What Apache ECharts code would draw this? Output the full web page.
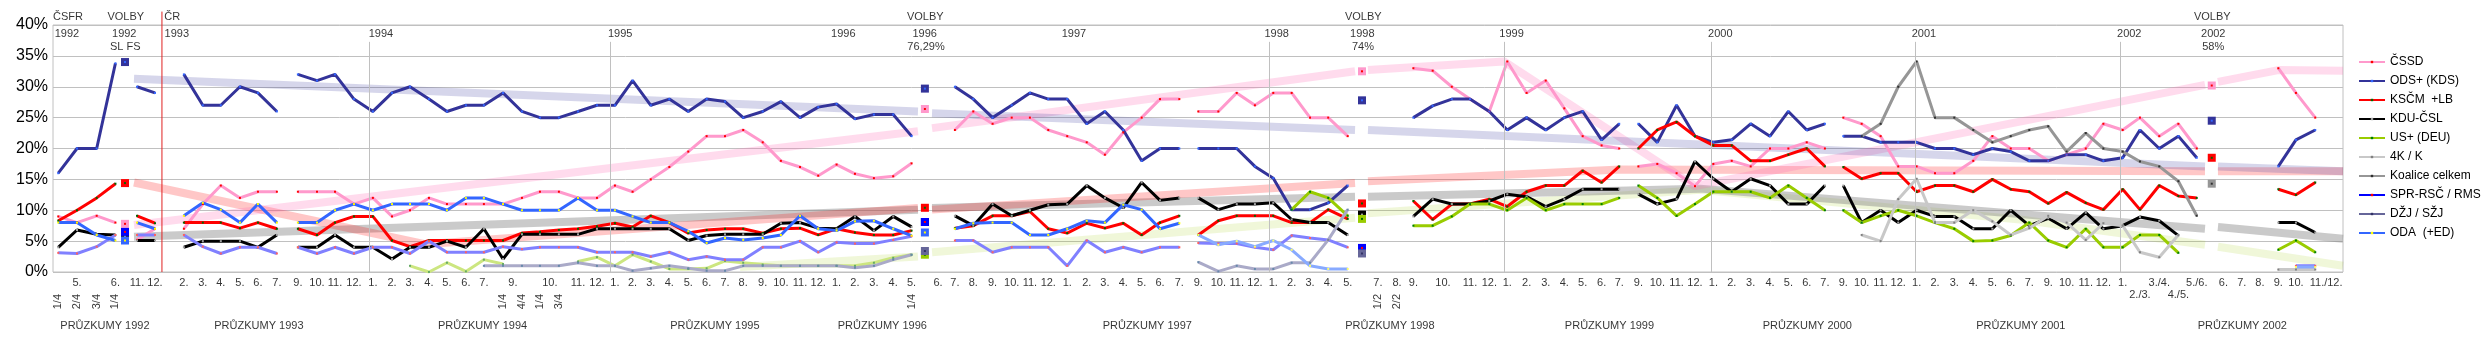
<!DOCTYPE html>
<html>
<head>
<meta charset="utf-8">
<script src="https://cdn.jsdelivr.net/npm/echarts@6/dist/echarts.min.js"></script>
<style>
  html, body { margin: 0; padding: 0; background: #fff; }
  #chart { width: 2485px; height: 351px; }
</style>
</head>
<body>
<div id="chart"></div>
<script>
const _ = null;

// poll columns: position on the x axis (one slot ~ one month)
const colX = [0, 1, 2.05, 3.05,
  4.2, 5.16,
  6.7, 7.71, 8.67, 9.69, 10.65, 11.66,
  12.78, 13.8, 14.76, 15.77,
  16.78, 17.8, 18.76, 19.77, 20.73, 21.74, 22.7,
  23.72, 24.73, 25.69, 26.7, 27.72, 28.73,
  29.69, 30.63, 31.6, 32.59, 33.6, 34.58, 35.56, 36.53, 37.57, 38.54, 39.56, 40.53,
  41.51, 42.49, 43.5, 44.53, 45.51, 46.92,
  47.82, 48.8, 49.83, 50.85, 51.82, 52.8,
  53.81, 54.85, 55.82, 56.8, 57.78, 58.76, 59.79,
  60.8, 61.87, 62.85, 63.82,
  64.8, 65.78, 66.76, 67.73, 68.77, 70.38, 71.4,
  72.27, 73.3, 74.32, 75.29, 76.32,
  77.28, 78.31, 79.33, 80.32, 81.3, 82.31, 83.25,
  84.27, 85.28, 86.31, 87.29,
  88.27, 89.25, 90.26, 91.29, 92.27, 93.25, 94.22,
  95.2, 96.18, 97.19, 98.13,
  99.11, 100.09, 101.12, 102.13, 103.15, 104.13, 105.12,
  106.13, 107.11, 108.13, 109.07,
  110.1, 111.02, 112.05, 113.07, 114.05, 115.47, 116.45, 117.42,
  118.4, 119.34, 120.37];

const monthLab = ['', '5.', '', '6.',
  '11.', '12.',
  '2.', '3.', '4.', '5.', '6.', '7.',
  '9.', '10.', '11.', '12.',
  '1.', '2.', '3.', '4.', '5.', '6.', '7.',
  '', '', '', '', '11.', '12.',
  '1.', '2.', '3.', '4.', '5.', '6.', '7.', '8.', '9.', '10.', '11.', '12.',
  '1.', '2.', '3.', '4.', '5.', '6.',
  '7.', '8.', '9.', '10.', '11.', '12.',
  '1.', '2.', '3.', '4.', '5.', '6.', '7.',
  '9.', '10.', '11.', '12.',
  '1.', '2.', '3.', '4.', '5.', '7.', '8.',
  '9.', '', '', '11.', '12.',
  '1.', '2.', '3.', '4.', '5.', '6.', '7.',
  '9.', '10.', '11.', '12.',
  '1.', '2.', '3.', '4.', '5.', '6.', '7.',
  '9.', '10.', '11.', '12.',
  '1.', '2.', '3.', '4.', '5.', '6.', '7.',
  '9.', '10.', '11.', '12.',
  '1.', '', '3./4.', '', '5./6.', '6.', '7.', '8.',
  '9.', '10.', ''];
const extraLab = [[24.25, '9.'], [26.22, '10.'], [73.85, '10.'], [120.95, '11./12.']];
const lowLab = [[111.02, '2./3.'], [113.07, '4./5.']];
const rotLab = [[0, '1/4'], [1, '2/4'], [2.05, '3/4'], [3.05, '1/4'],
  [23.72, '1/4'], [24.73, '4/4'], [25.69, '1/4'], [26.7, '3/4'],
  [45.51, '1/4'], [70.38, '1/2'], [71.4, '2/2']];
const surveyLab = [[2.49, 'PRŮZKUMY 1992'], [10.7, 'PRŮZKUMY 1993'], [22.63, 'PRŮZKUMY 1994'],
  [35.02, 'PRŮZKUMY 1995'], [43.95, 'PRŮZKUMY 1996'], [58.08, 'PRŮZKUMY 1997'],
  [71.02, 'PRŮZKUMY 1998'], [82.73, 'PRŮZKUMY 1999'], [93.28, 'PRŮZKUMY 2000'],
  [104.67, 'PRŮZKUMY 2001'], [116.48, 'PRŮZKUMY 2002']];
const yearLab = [[0.46, '1992'], [3.52, '1992'], [5.67, '1993', 'left'], [17.21, '1994'],
  [29.97, '1995'], [41.87, '1996'], [46.21, '1996'], [54.17, '1997'], [64.98, '1998'],
  [69.55, '1998'], [77.51, '1999'], [88.64, '2000'], [99.5, '2001'], [110.45, '2002'], [114.93, '2002']];
const electLab = [[3.57, 'SL FS'], [46.28, '76,29%'], [69.58, '74%'], [114.93, '58%']];
const topLab = [[-0.28, 'ČSFR', 'left'], [3.6, 'VOLBY'], [5.65, 'ČR', 'left'],
  [46.24, 'VOLBY'], [69.6, 'VOLBY'], [114.88, 'VOLBY']];
const yearLineX = [16.59, 29.44, 64.57, 77.12, 88.14, 99.04, 109.97];
const crX = 5.53;
const breakAfter = [3, 5, 11, 59, 82, 93];

// poll results, %
const cssd = [9, 8, 9.1, 8,
  5.2, 7,
  7, 11, 14, 12, 13, 13,
  13, 13, 13, 11,
  12, 9, 10, 12, 11, 11, 11,
  11, 12, 13, 13, 12, 12,
  14, 13, 15, 17, 19.5, 22, 22, 23, 21, 18, 17, 15.6,
  17.4, 15.9, 15.2, 15.5, 17.6, _,
  23, 26, 24, 25, 25, 23,
  22, 21, 19, 22.6, 25, 28, 28,
  26, 26, 29, 27,
  29, 29, 25, 25, 22, _, _,
  33, 32.6, 30, 28, 26,
  34.1, 29, 31, 26.5, 22, 20.5, 20,
  17.1, 17.5, 16, 13.9,
  17.5, 18, 17.1, 20, 20, 21, 20,
  25, 24, 22, 17.1,
  17.1, 16, 16, 18, 22, 20, 20,
  18, 19, 20, 24,
  23, 25, 22, 24, 20, _, _, _,
  33, 29, 25];
const ods = [16, 20, 20, 33.8,
  30, 29,
  32, 27, 27, 30, 29, 26,
  32, 31, 32, 28,
  26, 29, 30, 28, 26, 27, 27,
  29, 26, 25, 25, 26, 27,
  27, 31, 27, 28, 26, 28, 27.6, 25, 26, 27.6, 25, 26.7,
  27.2, 24.8, 25.5, 25.5, 22, _,
  30, 28, 25, 27, 29, 28,
  28, 24, 26, 23, 18, 20, 20,
  20, 20, 20, 17.1,
  15.2, 10.1, 10.1, 11.2, 14, _, _,
  25, 26.9, 28, 28, 26,
  23, 25, 23, 25, 26, 21.4, 24,
  24, 21, 27, 22,
  21, 21.4, 24, 22, 26, 23, 24,
  22, 22, 21, 21,
  21, 20, 20, 19, 20, 19.5, 18,
  18, 19, 19, 18,
  18.5, 23, 20, 22, 18.5, _, _, _,
  17.1, 21.4, 23];
const kscm = [8.3, 10, 12, 14.3,
  9.1, 7.9,
  8, 8, 8, 7.1, 8, 7,
  7, 6, 8, 9,
  9, 5.1, 4.1, 5.1, 5.1, 5.1, 5.1,
  5.1, 6.3, 6.5, 6.8, 7, 7.4,
  7.9, 7.3, 9.1, 8, 6.3, 6.8, 7, 7, 6.3, 7, 7.1, 6,
  7, 6.4, 6, 6, 6.7, _,
  7.1, 7.5, 9.1, 9.1, 9.8, 7,
  6.3, 7.9, 7.1, 7.9, 6, 8, 9.1,
  6, 8.3, 9.1, 9.1,
  9.1, 8, 8, 10.1, 8.6, _, _,
  11.5, 8.5, 11, 11, 11.8,
  10.6, 13, 14, 14, 16.4, 14.5, 17.1,
  20, 23, 24.3, 22,
  20.5, 20.5, 18, 18, 19, 20, 17.1,
  17, 15.1, 16, 16,
  13, 14, 14, 13, 15, 13.4, 13,
  11.1, 12.9, 11.2, 10.1,
  13.4, 10.1, 14, 12.3, 12, _, _, _,
  13.4, 12.5, 14.5];
const kdu = [4, 6.8, 6.1, 6,
  5.1, 5.1,
  4, 5, 5, 5, 4, 6,
  4, 4, 6, 4,
  4, 2.1, 4, 4, 5, 4, 7,
  2.1, 6.1, 6.1, 6.1, 6.1, 7,
  7, 7, 7, 7, 5.1, 5.9, 6.1, 6.1, 6.1, 7.9, 8, 7.1,
  7, 9, 6.7, 9, 7.3, _,
  9.1, 7.5, 11, 9.1, 10, 10.9,
  11, 14, 12, 10.4, 14.5, 11.6, 12,
  12, 10.1, 11, 11,
  11.2, 8.5, 8, 8, 6, _, _,
  9, 11.8, 11, 11, 11.5,
  12.6, 12.2, 10.6, 11.8, 13.4, 13.4, 13.4,
  12.6, 11, 11.8, 17.9,
  15.1, 13, 15.1, 14, 11, 11, 14,
  14, 8, 10, 8,
  10, 9, 9, 7, 7, 10, 7.5,
  8.7, 7, 9.6, 7,
  7.5, 8.9, 8.3, 5.9, _, _, _, _,
  8, 8, 6.4];
const deu = [_, _, _, _,
  _, _,
  _, _, _, _, _, _,
  _, _, _, _,
  _, _, 1, 0, 1.5, 0.1, 2,
  1.3, _, _, _, 1.7, 2.4,
  1, 2.8, 1.7, 0.5, 0.5, 0.6, 1.8, 1.5, 1.2, 1, 1, 1,
  1, 1, 1.5, 2.3, 2.8, _];
const us = [_, _, _, _, _, _, _, _, _, _, _, _, _, _, _, _,
  _, _, _, _, _, _, _, _, _, _, _, _, _, _, _, _,
  _, _, _, _, _, _, _, _, _, _, _, _, _, _, _, _,
  _, _, _, _, _, _, _, _, _, _, _, _, _, _, _, _,
  _, 10.1, 13, 12, 9.1, _, _,
  7.5, 7.5, 9, 11, 11,
  10, 12, 10, 11, 11, 11, 12,
  14, 12, 9.1, 11,
  13, 13, 13, 12, 14, 12, 10,
  10, 8, 9.1, 10,
  9.1, 8, 7, 5, 5.1, 5.9, 8,
  5.1, 4, 7, 4,
  4, 6, 6, 3.1, _, _, _, _,
  3.6, 5.1, 3.2];
const k4 = Array(94).fill(_).concat([
  _, 6, 5, 11.8,
  15.1, 8, 8, 10, 8.2, 6, 7.1,
  9.1, 8, 5.2, 7.9,
  7.5, 3.2, 2.4, 6, _, _, _, _,
  0.4, 0.4, 0.4]);
const koal = Array(94).fill(_).concat([
  _, 22, 24, 30,
  34.1, 25, 25, 23, 21, 22, 23,
  23.6, 19.5, 22.5, 20,
  19.5, 17.9, 17.1, 14.7, 9.1, _, _, _,
  _, _, _]);
const spr = [3.1, 3, 4.1, 6,
  6, 6,
  6, 4.1, 3, 4, 4, 3,
  4, 3, 4, 3,
  4, 4, 3, 5, 3.2, 3.2, 3.2,
  4.1, 3.7, 4, 4, 4, 3.2,
  3.2, 3.2, 2.5, 3.2, 2, 2.5, 2, 2, 4, 4, 5, 3.2,
  4.8, 4.6, 4.6, 5.2, 5.8, _,
  5.1, 5.1, 3.2, 4, 4, 4,
  1, 5.1, 3.2, 4, 3.2, 4, 4,
  4.7, 4.6, 4.6, 4,
  3.6, 5.9, 5.5, 5.2, 4, _, _].concat(Array(46).fill(_), [_, 1, 1]);
const dzj = [_, _, _, _, _, _, _, _, _, _, _, _, _, _, _, _,
  _, _, _, _, _, _, 1,
  1, 1, 1, 1, 1.5, 1,
  1, 0.2, 0.6, 1, 0.6, 0.2, 0.2, 1, 1, 1, 1, 1,
  1, 0.7, 1, 2, 2.8, _,
  _, _, _, _, _, _,
  _, _, _, _, _, _, _,
  1.6, 0.1, 1, 0.5,
  0.5, 1.5, 1.5, 5.2, 10.1];
const oda = [8, 8, 6, 5.1,
  8, 7,
  9.1, 11.2, 10.1, 8, 11, 8,
  8, 8, 10, 11,
  10, 11, 11, 11, 10, 12, 12,
  11, 10, 10, 10, 12, 10,
  10, 9, 8, 8, 6.6, 4.7, 5.5, 5.2, 5.5, 6, 9.1, 7,
  6.7, 8.2, 8.3, 7, 5.9, _,
  7, 7.9, 8, 8, 6, 6,
  7, 8.3, 8, 10.9, 10.1, 7, 7.9];
const odaLate = Array(60).fill(_).concat([
  6, 4.4, 5, 4.1,
  5.1, 3.6, 1, 0.5, 0.5, _, _], Array(46).fill(_), [_, 0.8, 0.8]);

// election results (squares)
const elX = [3.56, 46.22, 69.53, 114.85];
const elCSSD = [7.8, 26.4, 32.5, 30.2];
const elODS = [34, 29.7, 27.8, 24.5];
const elKSCM = [14.4, 10.4, 11.1, 18.5];
const elKDU = [5.8, 8.1, 9.3, _];
const elUS = [_, 2.8, 8.6, _];
const elKoal = [_, _, _, 14.3];
const elSPR = [6.5, 8.1, 3.9, _];
const elDZJ = [_, 3.4, 3.0, _];
const elODA = [5.1, 6.4, _, _];

// trend bands between elections
const trendODS = [[[4.04, 31.3], [45.85, 26.0]], [[46.6, 25.7], [69.16, 23.0]],
  [[69.85, 23.0], [114.49, 17.1]], [[115.18, 17.1], [121.85, 16.3]]];
const trendCSSD = [[[4.04, 7.6], [45.85, 22.8]], [[46.6, 23.3], [69.16, 32.5]],
  [[69.85, 32.7], [77.1, 34.1], [87.29, 13.9], [114.49, 30.3]],
  [[115.18, 30.8], [118.4, 32.7], [121.85, 32.6]]];
const trendKSCM = [[[4.04, 14.5], [19.56, 4.5], [45.85, 10.35]], [[46.6, 10.1], [69.16, 14.4]],
  [[69.85, 14.7], [83.3, 16.6], [114.49, 16.3]], [[115.18, 16.3], [121.85, 16.3]]];
const trendGrey = [[[4.04, 5.7], [45.85, 10.1]], [[46.6, 10.35], [69.16, 12.2]],
  [[69.85, 12.2], [87.56, 13.5], [114.49, 7.0]], [[115.18, 7.3], [121.85, 5.4]]];
const trendGreen = [[[36.36, 0.8], [45.85, 2.5]], [[46.6, 3.2], [69.16, 8.8]],
  [[69.85, 9.5], [87.56, 13.3], [104.62, 8.5], [114.49, 4.4]], [[115.18, 4.1], [121.85, 1.0]]];

// layout rows for the text (in axis units)
const Y_TOP = 41.3, Y_YEAR = 38.56, Y_SUB = 36.37, Y_MONTH = -1.81, Y_LOW = -3.7, Y_ROT = -4.8, Y_SURVEY = -8.8;
const FONT = "'Liberation Sans Narrow', 'Liberation Sans', Arial, sans-serif";

function seriesData(vals) {
  const out = [];
  colX.forEach((x, i) => {
    const v = vals[i] === undefined ? null : vals[i];
    out.push([x, v]);
    if (breakAfter.includes(i)) out.push([x + 0.5, null]);
  });
  return out;
}

function joinSegs(segs) {
  const out = [];
  segs.forEach((s, i) => {
    if (i) out.push([s[0][0], null]);
    s.forEach(p => out.push(p));
  });
  return out;
}

function partyLine(name, vals, line, dot) {
  return {
    name, type: 'line', data: seriesData(vals), symbol: 'rect', symbolSize: 2,
    showAllSymbol: true, connectNulls: false, z: 3,
    lineStyle: { color: line, width: 3 }, itemStyle: { color: dot }
  };
}

function band(segs, color) {
  return {
    type: 'line', data: joinSegs(segs), symbol: 'none', silent: true, z: 1,
    lineStyle: { color, width: 8, cap: 'butt' }
  };
}

function elect(vals, color, dot) {
  const data = [];
  elX.forEach((x, i) => { if (vals[i] != null) data.push([x, vals[i]]); });
  return [
    { type: 'scatter', data, symbol: 'rect', symbolSize: 8, itemStyle: { color, opacity: 1 }, z: 5, silent: true },
    { type: 'scatter', data, symbol: 'rect', symbolSize: 2, itemStyle: { color: dot, opacity: 1 }, z: 5, silent: true }
  ];
}

function texts(list, y, opts) {
  return Object.assign({
    type: 'scatter', silent: true, clip: false, symbol: 'circle', symbolSize: 1, z: 6,
    itemStyle: { color: 'rgba(0,0,0,0)' },
    data: list.map(([x, t, align]) => ({ name: t, value: [x, y], label: { align: align || 'center' } })),
    label: Object.assign({ show: true, position: 'inside', formatter: '{b}', color: '#000',
      fontFamily: FONT, fontSize: 11 }, opts || {})
  });
}

const monthItems = colX.map((x, i) => [x, monthLab[i]]).filter(d => d[1]).concat(extraLab);

const monthSeries = texts(monthItems, Y_MONTH);
monthSeries.markLine = {
  silent: true, symbol: ['none', 'none'], label: { show: false },
  lineStyle: { color: '#c0c0c0', width: 1, type: 'solid' },
  data: yearLineX.map(x => [{ coord: [x, 37.27] }, { coord: [x, 0] }])
};

const series = [
  band(trendGreen, 'rgba(153,204,0,0.15)'),
  band(trendGrey, 'rgba(128,128,128,0.42)'),
  band(trendKSCM, 'rgba(255,0,0,0.22)'),
  band(trendCSSD, 'rgba(255,105,180,0.24)'),
  band(trendODS, 'rgba(51,51,153,0.2)'),
  {
    type: 'line', data: [[crX, 42.17], [crX, 0]], symbol: 'none', clip: false, silent: true, z: 2,
    lineStyle: { color: '#e02020', width: 1 }
  },
  partyLine('ČSSD', cssd, '#ff99cc', '#ff0000'),
  partyLine('ODS+ (KDS)', ods, '#333399', '#3366ff'),
  partyLine('KSČM  +LB', kscm, '#ff0000', '#006600'),
  partyLine('KDU-ČSL', kdu, '#000000', '#a0a0a0'),
  partyLine('DEU', deu, '#cce680', '#66aa66'),
  partyLine('US+ (DEU)', us, '#99cc00', '#008000'),
  partyLine('4K / K', k4, '#c8c8c8', '#808080'),
  partyLine('Koalice celkem', koal, '#969696', '#303030'),
  partyLine('SPR-RSČ / RMS', spr, '#8080ff', '#ff6060'),
  partyLine('DŽJ / SŽJ', dzj, '#aaaac8', '#6688aa'),
  partyLine('ODA  (+ED)', oda, '#3366ff', '#ffff00'),
  partyLine('ODA2', odaLate, '#88aaff', '#ffff66'),
  ...elect(elCSSD, '#ff99cc', '#ff0000'),
  ...elect(elODS, '#333399', '#3366ff'),
  ...elect(elKSCM, '#ff0000', '#006600'),
  ...elect(elKDU, '#000000', '#a0a0a0'),
  ...elect(elUS, '#99cc00', '#006600'),
  ...elect(elKoal, '#969696', '#303030'),
  ...elect(elSPR, '#0000ff', '#ff0000'),
  ...elect(elDZJ, '#666699', '#333366'),
  ...elect(elODA, '#3366ff', '#ffff00'),
  monthSeries,
  texts(lowLab, Y_LOW),
  texts(rotLab, Y_ROT, { rotate: 90 }),
  texts(surveyLab, Y_SURVEY),
  texts(yearLab, Y_YEAR),
  texts(electLab, Y_SUB),
  texts(topLab, Y_TOP)
];

const chart = echarts.init(document.getElementById('chart'));
chart.setOption({
  animation: false,
  backgroundColor: '#fff',
  grid: { left: 53, right: 142, top: 25, bottom: 79, show: true, borderColor: '#c0c0c0', borderWidth: 1 },
  xAxis: { type: 'value', min: -0.28, max: 121.85, show: false },
  yAxis: {
    type: 'value', min: 0, max: 40, interval: 5,
    axisLine: { show: false }, axisTick: { show: false },
    axisLabel: { formatter: '{value}%', fontSize: 16, color: '#000', margin: 5,
      fontFamily: "'Liberation Sans', Arial, sans-serif" },
    splitLine: { lineStyle: { color: '#c0c0c0', width: 1 } }
  },
  legend: {
    orient: 'vertical', left: 2353, top: 50, itemWidth: 26, itemHeight: 3, itemGap: 5,
    selectedMode: false,
    textStyle: { fontSize: 12, lineHeight: 14, color: '#000', fontFamily: FONT },
    data: ['ČSSD', 'ODS+ (KDS)', 'KSČM  +LB', 'KDU-ČSL', 'US+ (DEU)', '4K / K', 'Koalice celkem',
      { name: 'SPR-RSČ / RMS', lineStyle: { color: '#0000ff' }, itemStyle: { color: '#ff0000' } },
      { name: 'DŽJ / SŽJ', lineStyle: { color: '#666699' }, itemStyle: { color: '#333366' } },
      'ODA  (+ED)']
  },
  series
});
</script>
</body>
</html>
